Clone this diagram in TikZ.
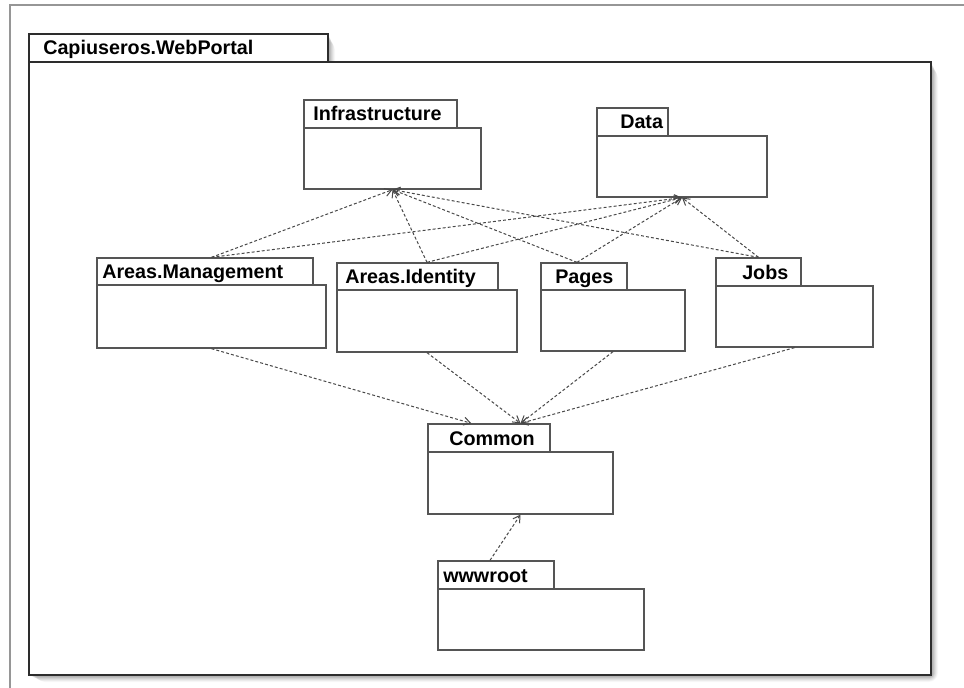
\documentclass[tikz,border=0pt]{standalone}
\usepackage{fontspec}
\setmainfont{Liberation Sans}
\usetikzlibrary{arrows.meta,calc,fit}
\definecolor{depline}{RGB}{72,72,72}
\definecolor{boxline}{RGB}{85,85,85}
\definecolor{pkgline}{RGB}{45,45,45}
\definecolor{frameline}{RGB}{150,150,150}

\begin{document}
\begin{tikzpicture}[x=0.75pt,y=-0.75pt,
  box/.style={draw=boxline,line width=1pt,fill=white,inner sep=0pt,rectangle},
  pkgbox/.style={draw=pkgline,line width=1.5pt,fill=white,inner sep=0pt,rectangle},
  lbl/.style={anchor=base west,inner sep=0pt,font=\fontsize{14.8}{17}\selectfont\bfseries},
  dep/.style={draw=depline,line width=0.75pt,dash pattern=on 2.2pt off 1.6pt,
    -{Straight Barb[length=5pt,width=6pt]}}]

% canvas
\fill[white] (0,0) rectangle (964,688);
\useasboundingbox (0,0) rectangle (964,688);
\draw[frameline,line width=1.5pt] (10,688) -- (10,5) -- (964,5);

% soft shadow of the enclosing package
\foreach \d/\o in {7/0.03,6/0.04,5/0.05,4/0.06,3/0.07,2/0.08}{
  \fill[black,opacity=\o,rounded corners=\d] (29+\d,34+\d) rectangle (328+\d,62+\d);
  \fill[black,opacity=\o,rounded corners=\d] (29+\d,62+\d) rectangle (931+\d,675+\d);
}

% enclosing package
\node[pkgbox,fit={(29,34)(328,62)}] (portaltab) {};
\node[pkgbox,fit={(29,62)(931,675)}] (portal) {};
\node[lbl] (portallbl) at (43,55) {Capiuseros.WebPortal};

% Infrastructure
\node[box,fit={(304,100)(457,128)}] (infratab) {};
\node[box,fit={(304,128)(481,189)}] (infra) {};
\node[lbl] (infralbl) at (313,121) {Infrastructure};

% Data
\node[box,fit={(597,108)(668,136)}] (datatab) {};
\node[box,fit={(597,136)(767,197)}] (data) {};
\node[lbl] (datalbl) at (620,129) {Data};

% Areas.Management
\node[box,fit={(97,258)(313,285)}] (mgmttab) {};
\node[box,fit={(97,285)(326,348)}] (mgmt) {};
\node[lbl] (mgmtlbl) at (102,278.5) {Areas.Management};

% Areas.Identity
\node[box,fit={(337,263)(498,290)}] (identtab) {};
\node[box,fit={(337,290)(517,352)}] (ident) {};
\node[lbl] (identlbl) at (345,283.5) {Areas.Identity};

% Pages
\node[box,fit={(541,263)(627,290)}] (pagestab) {};
\node[box,fit={(541,290)(685,351)}] (pages) {};
\node[lbl] (pageslbl) at (555,283.5) {Pages};

% Jobs
\node[box,fit={(716,258)(801,286)}] (jobstab) {};
\node[box,fit={(716,286)(873,347)}] (jobs) {};
\node[lbl] (jobslbl) at (742,279) {Jobs};

% Common
\node[box,fit={(428,424)(550,452)}] (commontab) {};
\node[box,fit={(428,452)(613,514)}] (common) {};
\node[lbl] (commonlbl) at (449,445) {Common};

% wwwroot
\node[box,fit={(438,561)(554,589)}] (wwwroottab) {};
\node[box,fit={(438,589)(644,650)}] (wwwroot) {};
\node[lbl] (wwwrootlbl) at (443,582) {wwwroot};

% dependencies on Infrastructure and Data
\draw[dep] (mgmt.center |- mgmttab.north) -- (infra.south);
\draw[dep] (mgmt.center |- mgmttab.north) -- (data.south);
\draw[dep] (ident.center |- identtab.north) -- (infra.south);
\draw[dep] (ident.center |- identtab.north) -- (data.south);
\draw[dep] ($(pagestab.north)+(-7,0)$) -- (infra.south);
\draw[dep] ($(pagestab.north)+(-7,0)$) -- (data.south);
\draw[dep] (jobstab.north) -- (infra.south);
\draw[dep] (jobstab.north) -- (data.south);

% dependencies on Common
\draw[dep] (mgmt.south) -- ($(commontab.north west)+(44,0)$);
\draw[dep] (ident.south) -- (common.center |- commontab.north);
\draw[dep] (pages.south) -- (common.center |- commontab.north);
\draw[dep] (jobs.south) -- (common.center |- commontab.north);
\draw[dep] ($(wwwroottab.north)+(-6,0)$) -- (common.south);

\end{tikzpicture}
\end{document}
